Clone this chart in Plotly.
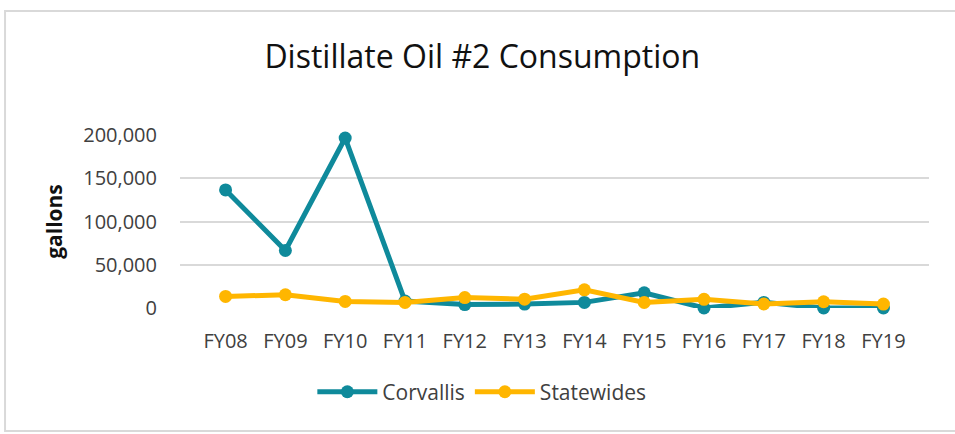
import plotly.graph_objects as go

fiscal_years = ["FY08", "FY09", "FY10", "FY11", "FY12", "FY13",
                "FY14", "FY15", "FY16", "FY17", "FY18", "FY19"]
corvallis = [136500, 66500, 196500, 8000, 4000, 4500,
             6500, 17500, 0, 6500, 0, 0]
statewides = [13400, 15300, 7600, 6500, 12000, 10200,
              21000, 6500, 10000, 4600, 7200, 4500]

FONT = "Open Sans"

fig = go.Figure()

fig.add_trace(go.Scatter(
    x=fiscal_years, y=corvallis, mode="lines+markers", name="Corvallis",
    line=dict(color="#0F8A9B", width=5),
    marker=dict(size=13, color="#0F8A9B"),
    cliponaxis=False,
))
fig.add_trace(go.Scatter(
    x=fiscal_years, y=statewides, mode="lines+markers", name="Statewides",
    line=dict(color="#FFB600", width=5),
    marker=dict(size=13, color="#FFB600"),
    cliponaxis=False,
))

# light frame round the whole chart
fig.add_shape(type="rect", xref="paper", yref="paper",
              x0=-0.2336, x1=1.06, y0=-0.711, y1=1.7168,
              line=dict(color="#D9D9D9", width=2), layer="below")

fig.update_layout(
    width=955, height=434,
    margin=dict(l=180, r=26, t=135, b=126, autoexpand=False),
    paper_bgcolor="white", plot_bgcolor="white",
    font=dict(family=FONT, color="#404040", size=20),
    title=dict(text="Distillate Oil #2 Consumption", x=0.505, xanchor="center",
               y=0.868, yanchor="middle",
               font=dict(family=FONT, size=32, color="#111111")),
    xaxis=dict(showgrid=False, showline=False, zeroline=False,
               automargin=False, ticklabelstandoff=19,
               tickfont=dict(size=20)),
    yaxis=dict(range=[0, 200000], tickvals=[0, 50000, 100000, 150000, 200000],
               tickformat=",d", gridcolor="#D9D9D9", gridwidth=1.5,
               zeroline=False, showline=False, ticklabelstandoff=22,
               automargin=False, tickfont=dict(size=20),
               title=dict(text="<b>gallons</b>", standoff=14,
                          font=dict(size=21, color="#111111"))),
    legend=dict(orientation="h", x=0.403, xanchor="center", y=-0.486,
                yanchor="middle", font=dict(size=21, color="#404040"),
                itemwidth=60),
    showlegend=True,
)

# page body has a default 8px margin; drop it so the figure sits at 0,0
fig.write_html("out.html", config={"displayModeBar": False},
               post_script="document.body.style.margin='0';"
                           "document.body.style.overflow='hidden';")
